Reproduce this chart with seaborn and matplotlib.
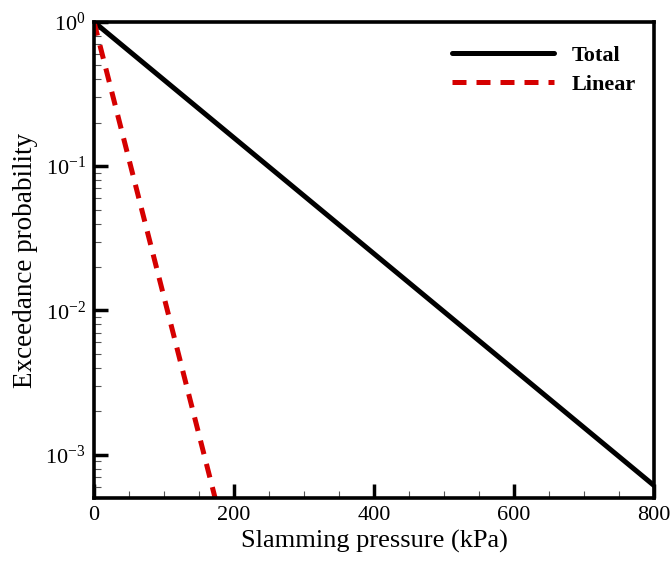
import numpy as np
import pandas as pd
import matplotlib
matplotlib.use("Agg")
import matplotlib.pyplot as plt
import seaborn as sns
from matplotlib.ticker import LogLocator, MultipleLocator, NullFormatter, FixedLocator

# Exceedance probability of slamming pressure (exponential tails)
total_pressure = [0.0, 800.0]
total_prob = [1.0, 6.1e-4]
linear_pressure = [0.0, 173.0]
linear_prob = [1.0, 5.0e-4]

x_ticks = [0, 200, 400, 600, 800]
y_ticks = [1e-3, 1e-2, 1e-1, 1e0]
y_tick_labels = [r"$10^{-3}$", r"$10^{-2}$", r"$10^{-1}$", r"$10^{0}$"]

sns.set_theme(style="white")
plt.rcParams["font.family"] = ["Liberation Serif", "DejaVu Serif"]
plt.rcParams["mathtext.fontset"] = "custom"
plt.rcParams["mathtext.rm"] = "Liberation Serif"
plt.rcParams["mathtext.it"] = "Liberation Serif:italic"
plt.rcParams["mathtext.bf"] = "Liberation Serif:bold"
for key in ("text.color", "axes.labelcolor", "xtick.color", "ytick.color"):
    plt.rcParams[key] = "black"

fig = plt.figure(figsize=(6.70, 5.63), dpi=100)
ax = fig.add_axes([0.1403, 0.1155, 0.8358, 0.8455])

df_total = pd.DataFrame({"p": total_pressure, "prob": total_prob})
df_linear = pd.DataFrame({"p": linear_pressure, "prob": linear_prob})

sns.lineplot(data=df_total, x="p", y="prob", ax=ax, color="black",
             linewidth=3.6, label="Total")
sns.lineplot(data=df_linear, x="p", y="prob", ax=ax, color="#d50000",
             linewidth=3.6, label="Linear", dashes=False)
ax.lines[1].set_dashes((2.8, 2.0))

ax.set_yscale("log")
ax.set_xlim(0, 800)
ax.set_ylim(5e-4, 1.0)

ax.xaxis.set_major_locator(FixedLocator(x_ticks))
ax.xaxis.set_minor_locator(MultipleLocator(50))
ax.set_xticklabels([str(v) for v in x_ticks])
ax.yaxis.set_major_locator(FixedLocator(y_ticks))
ax.set_yticklabels(y_tick_labels)
ax.yaxis.set_minor_locator(LogLocator(base=10, subs=np.arange(2, 10)))
ax.yaxis.set_minor_formatter(NullFormatter())

ax.tick_params(which="major", direction="in", length=10, width=2.5,
               color="black", labelcolor="black", labelsize=16, pad=6,
               bottom=True, left=True, top=False, right=False)
ax.tick_params(which="minor", direction="in", length=5, width=0.8,
               color="#555555", bottom=True, left=True, top=False, right=False)

for s in ax.spines.values():
    s.set_linewidth(2.6)
    s.set_color("black")

ax.set_xlabel("Slamming pressure (kPa)", fontsize=19, labelpad=3, color="black")
ax.set_ylabel("Exceedance probability", fontsize=19.5, labelpad=5, color="black")

leg = ax.legend(loc="upper right", bbox_to_anchor=(0.984, 0.969),
                borderaxespad=0, frameon=False, fontsize=16,
                handlelength=4.6, handletextpad=0.8, labelspacing=0.36)
for t in leg.get_texts():
    t.set_fontweight("bold")
    t.set_color("black")
for h in leg.get_lines():
    h.set_linewidth(3.6)

fig.savefig("out.png", dpi=100)
